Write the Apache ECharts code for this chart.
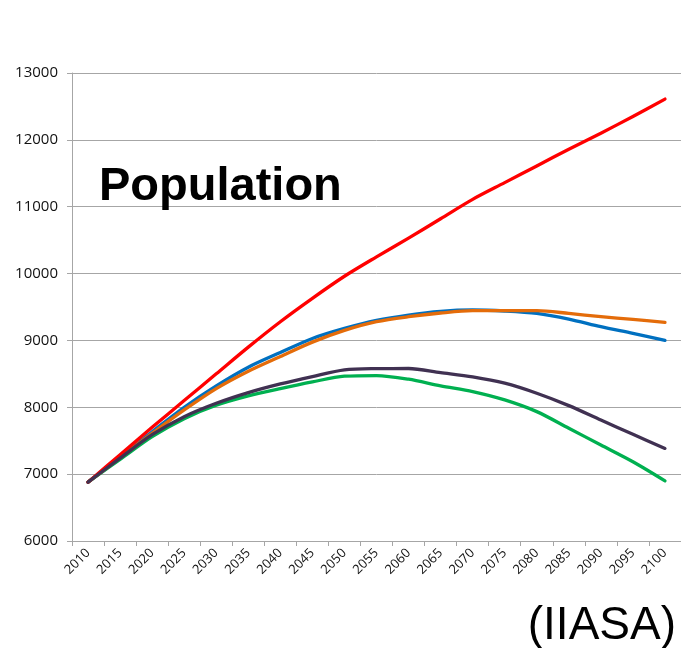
<!DOCTYPE html>
<html>
<head>
<meta charset="utf-8">
<title>Population</title>
<script src="https://cdn.jsdelivr.net/npm/echarts@6/dist/echarts.min.js"></script>
<style>
  html, body { margin: 0; padding: 0; background: #ffffff; }
  #chart { width: 681px; height: 648px; }
</style>
</head>
<body>
<div id="chart"></div>
<script>
// Years on the horizontal axis
const years = ['2010','2015','2020','2025','2030','2035','2040','2045','2050','2055',
               '2060','2065','2070','2075','2080','2085','2090','2095','2100'];

// Population projections (millions), one array per scenario
const popRed    = [6880, 7290, 7700, 8100, 8500, 8900, 9280, 9630, 9960, 10250,
                   10530, 10820, 11110, 11360, 11610, 11860, 12100, 12350, 12610];
const popBlue   = [6880, 7260, 7635, 8000, 8320, 8600, 8820, 9030, 9180, 9300,
                   9380, 9435, 9455, 9440, 9405, 9320, 9205, 9105, 9000];
const popOrange = [6880, 7250, 7610, 7960, 8280, 8540, 8760, 8975, 9150, 9280,
                   9355, 9410, 9445, 9445, 9445, 9405, 9355, 9315, 9270];
const popPurple = [6880, 7240, 7590, 7860, 8060, 8220, 8350, 8460, 8560, 8578,
                   8580, 8518, 8455, 8360, 8210, 8025, 7810, 7596, 7385];
const popGreen  = [6880, 7220, 7560, 7830, 8030, 8170, 8280, 8380, 8465, 8475,
                   8420, 8320, 8235, 8110, 7935, 7686, 7436, 7186, 6900];

// Value axis ticks
const yMin = 6000, yMax = 13000, yStep = 1000;

const gridGray = '#a6a6a6';
const labelFont = '"Open Sans", "Liberation Sans", sans-serif';

function lineSeries(name, data, color) {
  return {
    name: name,
    type: 'line',
    data: data,
    smooth: 0.3,
    symbol: 'none',
    lineStyle: { color: color, width: 3.3, cap: 'round', join: 'round' },
    itemStyle: { color: color }
  };
}

const chart = echarts.init(document.getElementById('chart'), null, { renderer: 'canvas' });

chart.setOption({
  backgroundColor: '#ffffff',
  animation: false,
  grid: { left: 72, top: 73, width: 612, height: 468, containLabel: false },
  xAxis: {
    type: 'category',
    data: years,
    boundaryGap: true,
    axisLine: { show: true, lineStyle: { color: gridGray, width: 1 } },
    axisTick: { show: true, length: 5, inside: false, lineStyle: { color: gridGray } },
    axisLabel: {
      interval: 0,
      rotate: 45,
      margin: 10,
      fontSize: 13,
      fontFamily: labelFont,
      color: '#111111'
    },
    splitLine: { show: false }
  },
  yAxis: {
    type: 'value',
    min: yMin,
    max: yMax,
    interval: yStep,
    axisLine: { show: true, lineStyle: { color: gridGray, width: 1 } },
    axisTick: { show: true, length: 5, inside: false, lineStyle: { color: gridGray } },
    axisLabel: {
      margin: 14,
      fontSize: 15,
      fontFamily: labelFont,
      color: '#111111',
      formatter: function (v) { return String(v); }
    },
    splitLine: { show: true, lineStyle: { color: gridGray, width: 1 } }
  },
  series: [
    lineSeries('Green', popGreen, '#00b050'),
    lineSeries('Blue', popBlue, '#0070c0'),
    lineSeries('Orange', popOrange, '#e46c0a'),
    lineSeries('Red', popRed, '#ff0000'),
    lineSeries('Purple', popPurple, '#403152')
  ],
  graphic: [
    {
      type: 'text',
      left: 99,
      top: 164,
      z: 100,
      style: {
        text: 'Population',
        font: 'bold 47px "Liberation Sans", Arial, sans-serif',
        fill: '#000000'
      }
    },
    {
      type: 'text',
      right: 5,
      top: 603,
      z: 100,
      style: {
        text: '(IIASA)',
        font: '46px "Liberation Sans", Arial, sans-serif',
        fill: '#000000'
      }
    }
  ]
});
</script>
</body>
</html>
